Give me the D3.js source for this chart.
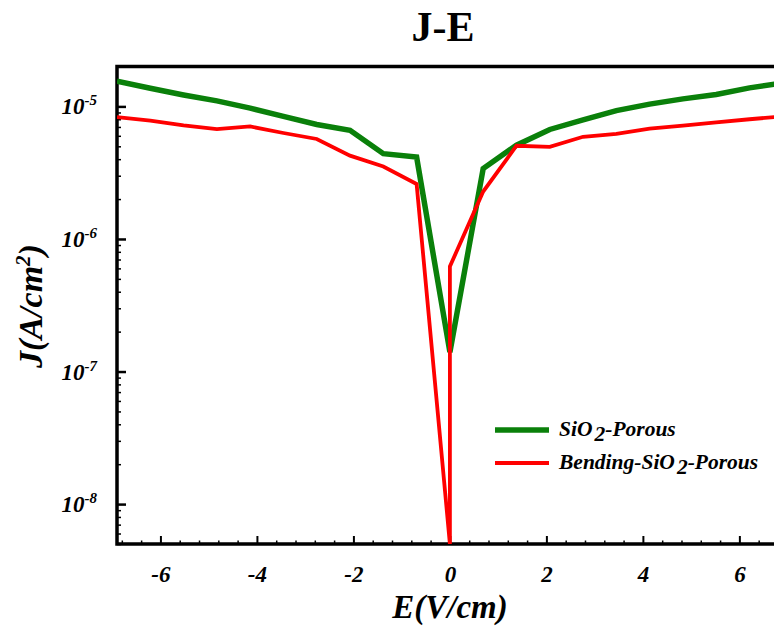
<!DOCTYPE html>
<html lang="en">
<head>
<meta charset="utf-8">
<script src="https://d3js.org/d3.v7.min.js"></script>
<style>
    body { margin: 0; background: #fff; }
    text { font-family: "Liberation Serif", "Times New Roman", serif; font-weight: bold; }
</style>
</head>
<body>
<script>
    // E field (V/cm) and current density J (A/cm^2)
    var eField = [-6.9, -6.21, -5.52, -4.83, -4.14, -3.45, -2.76, -2.07, -1.38, -0.69, 0,
                  0.69, 1.38, 2.07, 2.76, 3.45, 4.14, 4.83, 5.52, 6.21, 6.9];
    var jPorous = [1.55e-5, 1.37e-5, 1.22e-5, 1.10e-5, 9.7e-6, 8.4e-6, 7.3e-6, 6.6e-6, 4.4e-6, 4.15e-6, 1.4e-7,
                   3.4e-6, 5.1e-6, 6.7e-6, 7.9e-6, 9.3e-6, 1.04e-5, 1.14e-5, 1.23e-5, 1.38e-5, 1.5e-5];

    var eFieldBending = [-6.9, -6.21, -5.52, -4.83, -4.14, -3.45, -2.76, -2.07, -1.38, -0.69, 0, 0,
                         0.69, 1.38, 2.07, 2.76, 3.45, 4.14, 4.83, 5.52, 6.21, 6.9];
    var jBending = [8.3e-6, 7.8e-6, 7.2e-6, 6.75e-6, 7.06e-6, 6.3e-6, 5.68e-6, 4.25e-6, 3.52e-6, 2.6e-6, 5e-9, 6.2e-7,
                    2.28e-6, 5.05e-6, 4.95e-6, 5.9e-6, 6.2e-6, 6.8e-6, 7.15e-6, 7.57e-6, 8.0e-6, 8.4e-6];

    var xMajor = [-6, -4, -2, 0, 2, 4, 6];
    var yMajor = [1e-8, 1e-7, 1e-6, 1e-5];
    var yExp = ['-8', '-7', '-6', '-5'];

    var seriesNames = ['SiO', 'Bending-SiO'];
    var seriesColors = ['#0a800a', '#ff0000'];

    var width = 774, height = 630;
    var pLeft = 117, pTop = 66.5, pRight = 782.8, pBottom = 544;

    var svg = d3.select('body').append('svg').attr('width', width).attr('height', height);

    var x = d3.scaleLinear().domain([-6.9, 6.9]).range([pLeft, pRight]);
    var y = d3.scaleLog().domain([5e-9, 2e-5]).range([pBottom, pTop]);

    svg.append('clipPath').attr('id', 'plot')
        .append('rect').attr('x', pLeft).attr('y', pTop).attr('width', pRight - pLeft).attr('height', pBottom - pTop);

    // title
    svg.append('text').attr('x', 443).attr('y', 41).attr('text-anchor', 'middle')
        .style('font-size', '42px').text('J-E');

    // x axis
    var xMinor = d3.range(-6.8, 6.9, 0.4).filter(function(d) { return Math.abs(d / 2 - Math.round(d / 2)) > 0.01; });
    svg.append('g').attr('transform', 'translate(0,' + pBottom + ')')
        .call(d3.axisBottom(x).tickValues(xMinor).tickSize(-3.5).tickFormat(''))
        .call(function(g) { g.select('.domain').remove(); g.selectAll('line').attr('stroke-width', 1.5); });
    var gx = svg.append('g').attr('transform', 'translate(0,' + pBottom + ')')
        .call(d3.axisBottom(x).tickValues(xMajor).tickSize(-8).tickPadding(0).tickFormat(function(d) { return String(d); }));
    gx.select('.domain').remove();
    gx.selectAll('line').attr('stroke-width', 2);
    gx.selectAll('text').attr('y', 38).attr('dy', null)
        .style('font-size', '23px').style('font-style', 'italic').attr('fill', '#000');

    // y axis
    var yMinor = [];
    [1e-9, 1e-8, 1e-7, 1e-6, 1e-5].forEach(function(d) {
        for (var k = 2; k <= 9; k++) {
            var v = d * k;
            if (v >= 5e-9 && v <= 2e-5) yMinor.push(v);
        }
    });
    svg.append('g').attr('transform', 'translate(' + pLeft + ',0)')
        .call(d3.axisLeft(y).tickValues(yMinor).tickSize(-4).tickFormat(''))
        .call(function(g) { g.select('.domain').remove(); g.selectAll('line').attr('stroke-width', 1.5); });
    var gy = svg.append('g').attr('transform', 'translate(' + pLeft + ',0)')
        .call(d3.axisLeft(y).tickValues(yMajor).tickSize(-9).tickFormat(''));
    gy.select('.domain').remove();
    gy.selectAll('line').attr('stroke-width', 2.5);

    var yl = svg.append('g').selectAll('text').data(yMajor).join('text')
        .attr('x', 97).attr('y', function(d) { return y(d) + 8; })
        .attr('text-anchor', 'end')
        .style('font-size', '23px').style('font-style', 'italic');
    yl.append('tspan').text('10');
    yl.append('tspan').attr('dy', -9).style('font-size', '15px').text(function(d, i) { return yExp[i]; });

    // frame
    svg.append('path')
        .attr('d', 'M' + pRight + ',' + pTop + 'H' + pLeft + 'V' + pBottom + 'H' + pRight)
        .attr('fill', 'none').attr('stroke', '#000').attr('stroke-width', 3.5);

    // curves
    var line = d3.line()
        .x(function(d) { return x(d[0]); })
        .y(function(d) { return y(d[1]); });

    var plot = svg.append('g').attr('clip-path', 'url(#plot)');
    plot.append('path')
        .datum(d3.zip(eField, jPorous))
        .attr('d', line)
        .attr('fill', 'none').attr('stroke', seriesColors[0]).attr('stroke-width', 5.5);
    plot.append('path')
        .datum(d3.zip(eFieldBending, jBending))
        .attr('d', line)
        .attr('fill', 'none').attr('stroke', seriesColors[1]).attr('stroke-width', 3.8);

    // axis titles
    svg.append('text').attr('x', 450).attr('y', 618).attr('text-anchor', 'middle')
        .style('font-size', '33px').style('font-style', 'italic').text('E(V/cm)');

    var yt = svg.append('text').attr('transform', 'translate(42,306) rotate(-90)')
        .attr('text-anchor', 'middle')
        .style('font-size', '34px').style('font-style', 'italic');
    yt.append('tspan').text('J(A/cm');
    yt.append('tspan').attr('dy', -12).style('font-size', '21px').text('2');
    yt.append('tspan').attr('dy', 12).text(')');

    // legend
    var legend = svg.append('g');
    [0, 1].forEach(function(i) {
        var ly = 430 + i * 33;
        legend.append('line').attr('x1', 495).attr('x2', 549).attr('y1', ly).attr('y2', ly)
            .attr('stroke', seriesColors[i]).attr('stroke-width', i === 0 ? 5.5 : 3.8);
        var t = legend.append('text').attr('x', 559).attr('y', ly + 6)
            .style('font-size', '21.5px').style('font-style', 'italic');
        t.append('tspan').text(seriesNames[i]);
        t.append('tspan').attr('dy', 5).attr('dx', 2).text('2');
        t.append('tspan').attr('dy', -5).text('-Porous');
    });
</script>
</body>
</html>
